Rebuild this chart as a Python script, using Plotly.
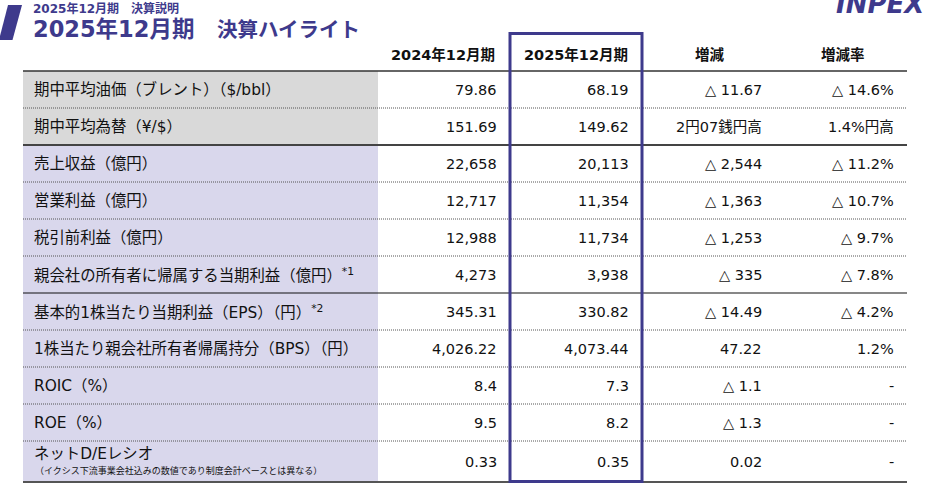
import plotly.graph_objects as go

# --- table data ---
row_labels = [
    "期中平均油価（ブレント）（$/bbl）",
    "期中平均為替（¥/$）",
    "売上収益（億円）",
    "営業利益（億円）",
    "税引前利益（億円）",
    "親会社の所有者に帰属する当期利益（億円）<sup>*1</sup>",
    "基本的1株当たり当期利益（EPS）（円）<sup>*2</sup>",
    "1株当たり親会社所有者帰属持分（BPS）（円）",
    "ROIC（%）",
    "ROE（%）",
    "ネットD/Eレシオ",
]
row_notes = {10: "（イクシス下流事業会社込みの数値であり制度会計ベースとは異なる）"}
col_headers = ["2024年12月期", "2025年12月期", "増減", "増減率"]
fy2024 = ["79.86", "151.69", "22,658", "12,717", "12,988", "4,273",
          "345.31", "4,026.22", "8.4", "9.5", "0.33"]
fy2025 = ["68.19", "149.62", "20,113", "11,354", "11,734", "3,938",
          "330.82", "4,073.44", "7.3", "8.2", "0.35"]
change = ["△ 11.67", "2円07銭円高", "△ 2,544", "△ 1,363", "△ 1,253", "△ 335",
          "△ 14.49", "47.22", "△ 1.1", "△ 1.3", "0.02"]
change_rate = ["△ 14.6%", "1.4%円高", "△ 11.2%", "△ 10.7%", "△ 9.7%", "△ 7.8%",
               "△ 4.2%", "1.2%", "-", "-", "-"]
# row groups: 0-1 market, 2-5 P/L, 6-10 per share / ratios
gray_rows = [0, 1]

PURPLE = "#3e3a8c"
FONT = "DejaVu Sans, Noto Sans CJK JP"
W, H = 930, 489

# --- layout geometry (pixels) ---
X0, X_LABEL, X1 = 23, 378, 907
TOP = 71
ROW_H = 37.0
LAST_H = 41.0
n = len(row_labels)
bounds = [TOP + ROW_H * i for i in range(n)] + [TOP + ROW_H * (n - 1) + LAST_H]
centers = [(bounds[i] + bounds[i + 1]) / 2 for i in range(n)]
val_right = [498, 630, 763, 895]
head_x = [(496, "right"), (629, "right"), (710, "center"), (843, "center")]

fig = go.Figure()
shapes = []
ann = []

# label cell fills
for i in range(n):
    shapes.append(dict(type="rect", x0=X0, x1=X_LABEL, y0=bounds[i], y1=bounds[i + 1],
                       fillcolor="#d9d9d9" if i in gray_rows else "#d9d7ec",
                       line=dict(width=0), layer="below"))

# row separators
for i in range(1, n):
    if i == 2:
        ln = dict(color="#444444", width=2)
    elif i == 6:
        ln = dict(color="#111111", width=1.2)
    else:
        ln = dict(color="#555555", width=1, dash="1px,1px")
    shapes.append(dict(type="line", x0=X0, x1=X1, y0=bounds[i], y1=bounds[i], line=ln))
shapes.append(dict(type="line", x0=X0, x1=X1, y0=TOP, y1=TOP,
                   line=dict(color="#333333", width=1.5)))
shapes.append(dict(type="line", x0=X0, x1=X1, y0=bounds[-1], y1=bounds[-1],
                   line=dict(color="#555555", width=2)))

# highlight box around current year column
shapes.append(dict(type="rect", x0=510, x1=642, y0=33.5, y1=bounds[-1] - 0.5,
                   line=dict(color=PURPLE, width=3), fillcolor="rgba(0,0,0,0)"))

# slanted mark at top left
shapes.append(dict(type="path", path="M 8 5 L 22 5 L 12.5 40 L -1 40 Z",
                   fillcolor=PURPLE, line=dict(width=0)))

# headers
for (x, anchor), text in zip(head_x, col_headers):
    ann.append(dict(x=x, y=54, text=f"<b>{text}</b>", xanchor=anchor, yanchor="middle",
                    font=dict(size=14.5, color="#111111", family=FONT)))

# row labels and values
for i in range(n):
    y_lab = centers[i] - 8 if i in row_notes else centers[i]
    ann.append(dict(x=33, y=y_lab, text=row_labels[i], xanchor="left", yanchor="middle",
                    font=dict(size=15.4, color="#111111", family=FONT)))
    if i in row_notes:
        ann.append(dict(x=34, y=centers[i] + 9, text=row_notes[i], xanchor="left",
                        yanchor="middle", font=dict(size=9, color="#111111", family=FONT)))
    for xr, col in zip(val_right, [fy2024, fy2025, change, change_rate]):
        ann.append(dict(x=xr, y=centers[i], text=col[i], xanchor="right", yanchor="middle",
                        font=dict(size=14.5, color="#111111", family=FONT)))

# titles and logo
ann.append(dict(x=32, y=8, text="<b>2025年12月期　決算説明</b>", xanchor="left",
                yanchor="middle", font=dict(size=12, color=PURPLE, family=FONT)))
ann.append(dict(x=32, y=28.5,
                text="<b>2025年12月期　<span style='font-size:20.5px'>決算ハイライト</span></b>",
                xanchor="left", yanchor="middle",
                font=dict(size=22.5, color=PURPLE, family=FONT)))
ann.append(dict(x=927, y=4, text="<b><i>INPEX</i></b>", xanchor="right", yanchor="middle",
                font=dict(size=26, color=PURPLE, family="DejaVu Sans")))

for a in ann:
    a.update(xref="x", yref="y", showarrow=False, borderpad=0)

fig.update_layout(
    width=W, height=H,
    margin=dict(l=0, r=0, t=0, b=0),
    paper_bgcolor="white", plot_bgcolor="white",
    xaxis=dict(range=[0, W], visible=False, fixedrange=True),
    yaxis=dict(range=[H, 0], visible=False, fixedrange=True),
    shapes=shapes, annotations=ann, showlegend=False,
)
# drop the default 8px page margin so the figure sits at the window corner
fig.write_html("out.html", config={"displayModeBar": False},
               post_script="document.body.style.margin='0';")
